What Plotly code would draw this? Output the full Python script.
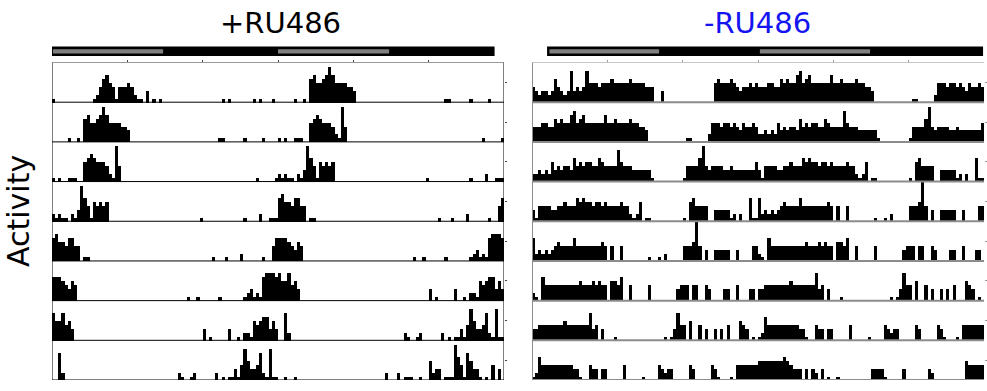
import plotly.graph_objects as go

# ---------------- data (activity per 20-min bin, 72 bins/day, scale 0-10 = fraction of row) ----
L_DAY1 = [1,0,0,0,0,0,0,0,0,0, 0,0,0,1,2,4,6,7,5,4, 1,4,4,4,5,4,2,1,1,0, 3,0,1,0,1,0,0,0,0,0, 0,0,0,0,0,0,0,0,0,0, 0,0,0,0,1,0,1,0,0,0, 0,0,0,0,1,0,1,0,0,0, 1,0]
L_DAY2 = [0,0,0,0,0,1,0,0,1,0, 6,7,5,5,6,7,9,7,5,5, 5,5,4,4,3,0,0,0,0,0, 0,0,0,0,0,0,0,0,0,0, 0,0,0,0,0,0,0,0,0,0, 0,0,0,1,1,0,0,0,0,0, 0,1,0,0,0,0,0,1,0,0, 0,0]
L_DAY3 = [1,0,1,0,0,1,1,1,0,0, 5,6,7,6,5,5,5,4,2,1, 9,4,0,0,0,0,0,0,0,0, 0,0,0,0,0,0,0,0,0,0, 0,0,0,0,0,0,0,0,0,0, 0,0,0,0,0,0,0,0,0,0, 0,0,0,0,0,1,0,0,0,0, 0,1]
L_DAY4 = [2,1,2,1,1,0,2,1,3,9, 6,4,1,5,4,5,4,5,0,0, 0,0,0,0,0,0,0,0,0,0, 0,0,0,0,0,0,0,0,0,0, 0,0,0,0,0,0,0,1,0,0, 0,0,0,0,0,0,0,0,0,0, 0,1,0,0,0,0,2,0,0,1, 1,1]
L_DAY5 = [6,7,5,5,4,6,6,4,4,0, 1,1,0,0,0,0,0,0,0,0, 0,0,0,0,0,0,0,0,0,0, 0,0,0,0,0,0,0,0,0,0, 0,0,0,0,0,0,0,0,0,0, 0,1,0,0,0,1,0,0,0,0, 2,0,0,0,0,0,0,1,0,0, 4,6]
L_DAY6 = [6,6,6,5,4,3,5,4,0,0, 0,0,0,0,0,0,0,0,0,0, 0,0,0,0,0,0,0,0,0,0, 0,0,0,0,0,0,0,0,0,0, 0,0,0,1,0,0,1,0,0,0, 0,0,0,1,0,0,0,0,0,0, 0,1,2,3,1,2,1,6,7,7, 7,6]
L_DAY7 = [7,5,5,7,4,5,3,0,0,0, 0,0,0,0,0,0,0,0,0,0, 0,0,0,0,0,0,0,0,0,0, 0,0,0,0,0,0,0,0,0,0, 0,0,0,0,0,0,0,0,3,0, 1,0,0,0,0,0,3,0,0,1, 0,2,2,1,5,4,5,6,6,3, 5,3]
L_DAY8 = [0,0,7,2,0,0,0,0,0,0, 0,0,0,0,0,0,0,0,0,0, 0,0,0,0,0,0,0,0,0,0, 0,0,0,0,0,0,0,0,0,0, 2,1,0,0,1,2,0,0,0,0, 0,0,2,0,1,0,1,1,3,1, 4,8,5,3,3,4,7,2,1,8, 1,1]
L_DAY9 = [0,0,1,0,0,1,0,0,0,0, 0,0,0,0,0,0,0,0,0,0, 0,0,0,0,0,0,0,0,0,0, 0,0,0,0,2,0,0,0,2,0, 1,1,1,0,0,1,0,0,5,2, 3,3,0,1,1,1,9,6,4,1, 7,5,3,3,1,0,1,0,4,0, 3,0]

R_DAY1 = [4,3,2,3,3,2,3,6,4,3, 2,3,8,3,4,3,4,8,5,5, 5,4,5,5,5,6,5,5,5,5, 5,6,5,5,5,5,4,4,4,0, 0,3,0,0,0,0,0,0,0,0, 0,0,0,0,0,0,0,0,5,6, 5,5,5,6,5,4,3,4,4,5, 4,5]
R_DAY2 = [4,4,4,5,5,4,4,6,5,6, 5,5,7,8,5,6,7,5,5,5, 5,5,5,7,5,5,6,5,5,5, 5,6,5,5,4,4,3,0,0,0, 0,0,0,0,0,0,0,0,0,1, 1,0,0,0,0,0,2,5,5,5, 4,5,5,4,5,4,3,5,4,4, 5,4]
R_DAY3 = [2,2,3,2,3,2,5,3,4,3, 4,4,3,6,4,5,4,5,5,4, 4,6,5,4,4,4,4,8,5,4, 4,4,3,3,3,3,3,3,1,0, 0,0,0,0,0,0,0,0,1,4, 4,4,4,6,9,4,3,4,4,4, 4,3,3,4,3,3,3,3,3,3, 3,5]
R_DAY4 = [3,1,4,4,4,4,3,3,4,4, 5,4,4,4,6,5,6,5,5,4, 5,5,4,5,4,4,4,4,5,4, 4,2,1,2,5,0,1,1,0,0, 0,0,0,0,0,0,0,0,1,0, 5,6,4,4,4,4,0,0,3,3, 3,3,3,1,2,0,2,0,0,6, 1,1]
R_DAY5 = [6,2,3,2,3,2,3,4,5,4, 4,4,4,6,4,4,4,4,4,4, 4,4,5,4,0,4,0,0,4,0, 0,0,0,0,0,0,0,1,0,0, 1,0,2,0,0,0,0,0,4,4, 4,5,10,4,0,3,0,0,3,3, 3,3,3,0,0,3,0,0,0,0, 4,4]
R_DAY6 = [2,1,0,6,4,4,4,4,4,4, 4,4,4,4,4,5,4,4,4,5, 4,5,4,4,0,5,5,4,6,0, 0,4,0,0,0,0,0,4,0,0, 0,0,0,0,0,0,3,4,4,4, 0,4,4,0,0,4,3,0,0,0, 0,3,3,0,0,4,0,0,0,3, 3,0]
R_DAY7 = [3,3,4,4,4,4,4,4,4,4, 5,4,4,4,4,4,4,4,7,3, 4,0,3,0,0,0,1,0,0,0, 0,0,0,0,0,0,0,0,0,0, 0,0,1,0,1,3,7,4,4,0, 5,0,0,4,0,3,0,0,3,0, 3,0,4,0,0,0,5,4,3,0, 1,0]
R_DAY8 = [1,2,6,4,4,4,4,4,4,4, 4,4,4,3,3,1,0,0,4,3, 3,0,3,3,0,0,0,0,0,4, 0,0,0,0,0,1,0,0,0,0, 4,3,2,3,3,0,0,0,0,0, 4,3,0,0,0,0,0,4,3,1, 0,0,0,1,0,4,4,4,4,4, 4,4]
R_DAY9 = [5,5,5,5,5,5,5,5,6,5, 4,3,3,3,0,3,0,3,2,0, 3,0,1,0,0,1,0,0,0,0, 0,0,0,0,0,0,3,3,3,3, 1,0,0,0,0,0,3,0,0,0, 0,0,0,0,3,2,0,0,0,0, 0,0,0,0,0,0,5,4,4,4, 4,4]

LEFT_DAYS = [L_DAY1, L_DAY2, L_DAY3, L_DAY4, L_DAY5, L_DAY6, L_DAY7, L_DAY8, L_DAY9]
RIGHT_DAYS = [R_DAY1, R_DAY2, R_DAY3, R_DAY4, R_DAY5, R_DAY6, R_DAY7, R_DAY8, R_DAY9]

# light/dark bar (hours): outer black bar and inner gray "light" segments
LEFT_LD_BAR = [-0.2, 47.0]
LEFT_LIGHT = [[0.1, 11.8], [24.0, 35.8]]
RIGHT_LD_BAR = [1.6, 47.9]
RIGHT_LIGHT = [[1.85, 13.5], [24.2, 35.9]]

TITLES = ["+RU486", "-RU486"]
TITLE_COLORS = ["#000000", "#1414F0"]
Y_LABEL = "Activity"

N_ROWS = 8
BINS_PER_DAY = 72
BIN_H = 24.0 / BINS_PER_DAY

for d in LEFT_DAYS + RIGHT_DAYS:
    assert len(d) == BINS_PER_DAY, len(d)

W, H = 987, 391
fig = go.Figure()

panels = [
    dict(days=LEFT_DAYS, xa="x", ya="y", dom=[52 / W, 504 / W], ld=LEFT_LD_BAR, light=LEFT_LIGHT,
         line_color="#000000", line_w=1, tcx=280),
    dict(days=RIGHT_DAYS, xa="x2", ya="y2", dom=[532 / W, 984 / W], ld=RIGHT_LD_BAR, light=RIGHT_LIGHT,
         line_color="#8c8c8c", line_w=2, tcx=757),
]

y_bottom = 1 - 380 / H
y_top = 1 - 62.5 / H
shapes = []
annotations = []

for pi, p in enumerate(panels):
    xs, ys, bases = [], [], []
    for r in range(N_ROWS):
        base = N_ROWS - 1 - r
        for half in range(2):
            day = p["days"][r + half]
            for i, v in enumerate(day):
                if v > 0:
                    xs.append(24 * half + (i + 0.5) * BIN_H)
                    ys.append(v / 10.0)
                    bases.append(base)
    fig.add_trace(go.Bar(x=xs, y=ys, base=bases, width=BIN_H, xaxis=p["xa"], yaxis=p["ya"],
                         marker=dict(color="#000000", line=dict(width=0)), showlegend=False,
                         hoverinfo="skip"))
    xref = p["xa"]
    yref = p["ya"]
    lc, lw = p["line_color"], p["line_w"]
    # row baselines
    for k in range(N_ROWS):
        shapes.append(dict(type="line", xref=xref, yref=yref, x0=0, x1=48, y0=k, y1=k,
                           line=dict(color=lc, width=lw), layer="above"))
    # top line and side lines
    shapes.append(dict(type="line", xref=xref, yref=yref, x0=0, x1=48, y0=N_ROWS, y1=N_ROWS,
                       line=dict(color=lc if pi else "#333333", width=1), layer="above"))
    shapes.append(dict(type="line", xref=xref, yref=yref, x0=0, x1=0, y0=0, y1=N_ROWS,
                       line=dict(color=lc, width=lw), layer="above"))
    if pi == 0:
        shapes.append(dict(type="line", xref=xref, yref=yref, x0=48, x1=48, y0=0, y1=N_ROWS,
                           line=dict(color=lc, width=lw), layer="above"))
    # LD bar
    shapes.append(dict(type="rect", xref=xref, yref="paper", x0=p["ld"][0], x1=p["ld"][1],
                       y0=1 - 56 / H, y1=1 - 46.5 / H, fillcolor="#000000", line=dict(width=0)))
    for a, b in p["light"]:
        shapes.append(dict(type="rect", xref=xref, yref="paper", x0=a, x1=b,
                           y0=1 - 53.5 / H, y1=1 - 49.3 / H, fillcolor="#808080", line=dict(width=0)))
    annotations.append(dict(text=TITLES[pi], x=p["tcx"] / W, y=1 - 23 / H, xref="paper", yref="paper",
                            showarrow=False, xanchor="center", yanchor="middle",
                            font=dict(family="DejaVu Sans, Liberation Sans, Arial", size=29,
                                      color=TITLE_COLORS[pi])))

annotations.append(dict(text=Y_LABEL, x=19 / W, y=1 - 211 / H, xref="paper", yref="paper",
                        showarrow=False, textangle=-90, xanchor="center", yanchor="middle",
                        font=dict(family="DejaVu Sans, Liberation Sans, Arial", size=30, color="#000000")))

axis_common_x = dict(range=[0, 48], showgrid=False, zeroline=False, showline=False,
                     showticklabels=False, ticks="outside", ticklen=2, tickwidth=1,
                     tickvals=[8, 16, 24, 32, 40], side="top", fixedrange=True)
axis_common_y = dict(range=[0, N_ROWS], showgrid=False, zeroline=False, showline=False,
                     showticklabels=False, ticks="outside", ticklen=2, tickwidth=1,
                     tickvals=[k + 0.5 for k in range(N_ROWS)], side="right",
                     domain=[y_bottom, y_top], fixedrange=True)

fig.update_layout(
    width=W, height=H,
    margin=dict(l=0, r=0, t=0, b=0),
    paper_bgcolor="white", plot_bgcolor="white",
    bargap=0, barmode="overlay",
    xaxis=dict(domain=panels[0]["dom"], anchor="y", tickcolor="#444444", **axis_common_x),
    yaxis=dict(anchor="x", tickcolor="#444444", **axis_common_y),
    xaxis2=dict(domain=panels[1]["dom"], anchor="y2", tickcolor="#999999", **axis_common_x),
    yaxis2=dict(anchor="x2", tickcolor="#999999", **axis_common_y),
    shapes=shapes,
    annotations=annotations,
)

fig.write_html("out.html")
